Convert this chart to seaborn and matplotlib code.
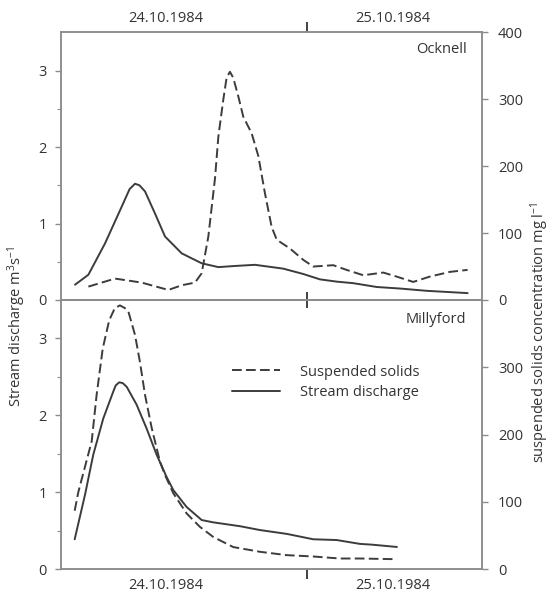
import matplotlib
matplotlib.use("Agg")
import matplotlib.pyplot as plt
from matplotlib.ticker import FixedLocator, NullFormatter
from matplotlib.lines import Line2D
import seaborn as sns

# Time axis: hours counted from 24.10.1984 00:00
day_ticks = [24]
day_label_pos = [16.0, 28.9]
day_labels = ["24.10.1984", "25.10.1984"]

# Ocknell: stream discharge (m3/s)
ock_q_hours = [10.80, 11.56, 12.51, 13.46, 13.91, 14.22, 14.47, 14.79, 15.36, 15.93,
               16.88, 18.02, 18.97, 19.92, 21.06, 22.67, 23.81, 24.76, 25.72, 26.66,
               28.00, 29.32, 30.85, 33.18]
ock_q = [0.20, 0.33, 0.74, 1.22, 1.45, 1.52, 1.50, 1.42, 1.13, 0.83,
         0.61, 0.48, 0.43, 0.445, 0.46, 0.41, 0.34, 0.27, 0.24, 0.22,
         0.17, 0.15, 0.12, 0.09]

# Ocknell: suspended solids (mg/l)
ock_ss_hours = [11.56, 13.08, 14.60, 16.12, 16.88, 17.64, 18.02, 18.40, 18.78, 18.97,
                19.25, 19.44, 19.63, 19.82, 20.11, 20.39, 20.87, 21.25, 21.63, 22.01,
                22.30, 23.05, 23.81, 24.38, 25.52, 26.28, 27.23, 28.37, 29.13, 30.08,
                31.03, 32.17, 33.18]
ock_ss = [20, 32, 26, 15, 22, 26, 40, 95, 182, 244,
          299, 332, 341, 332, 304, 274, 249, 215, 159, 109,
          90, 77, 60, 50, 52, 45, 37, 41, 35, 27,
          35, 42, 45]

# Millyford: stream discharge (m3/s)
mil_q_hours = [10.78, 11.37, 11.84, 12.41, 12.98, 13.12, 13.32, 13.52, 13.75, 14.31,
               14.88, 15.45, 16.02, 16.40, 17.16, 18.02, 18.68, 20.20, 21.34, 22.87,
               24.38, 25.72, 27.04, 27.73, 29.15]
mil_q = [0.39, 0.97, 1.49, 1.96, 2.31, 2.39, 2.43, 2.42, 2.37, 2.14,
         1.83, 1.49, 1.20, 1.03, 0.81, 0.64, 0.61, 0.56, 0.51, 0.46,
         0.39, 0.38, 0.33, 0.32, 0.29]

# Millyford: suspended solids (mg/l)
mil_ss_hours = [10.78, 10.99, 11.75, 12.03, 12.38, 12.75, 13.07, 13.36, 13.64, 13.84,
                14.22, 14.50, 14.79, 15.17, 15.64, 15.93, 16.40, 17.16, 17.92, 18.68,
                19.82, 21.34, 22.87, 24.38, 25.90, 27.04, 29.06]
mil_ss = [87, 115, 190, 259, 328, 370, 388, 392, 388, 383,
          348, 308, 259, 210, 160, 140, 113, 83, 63, 48,
          33, 26, 21, 19, 16, 16, 15]

sns.set_theme(style="ticks")
plt.rcParams["font.family"] = ["Open Sans", "DejaVu Sans"]
plt.rcParams["mathtext.fontset"] = "custom"
plt.rcParams["mathtext.rm"] = "Open Sans"
plt.rcParams["mathtext.default"] = "regular"

LINE = "#3c3c3c"
SPINE = "#8c8c8c"
TEXT = "#333333"
FS = 10.5
DASH = (0, (5, 2.2))

fig = plt.figure(figsize=(5.52, 5.93), dpi=100)
ax_top = fig.add_axes([0.1105, 0.4941, 0.7627, 0.4514])
ax_bot = fig.add_axes([0.1105, 0.0400, 0.7627, 0.4541])


def style_axis(ax):
    for s in ax.spines.values():
        s.set_color(SPINE)
        s.set_linewidth(1.1)
        s.set_visible(True)
    ax.tick_params(colors=SPINE, labelcolor=TEXT, labelsize=FS, width=1.0)


def draw_panel(ax, q_h, q, ss_h, ss, name, name_y, right_ticks):
    axr = ax.twinx()
    sns.lineplot(x=q_h, y=q, ax=ax, color=LINE, lw=1.4,
                 solid_joinstyle="round", solid_capstyle="round")
    sns.lineplot(x=ss_h, y=ss, ax=axr, color=LINE, lw=1.4, linestyle=DASH,
                 dash_joinstyle="round")
    ax.set_xlim(10, 34)
    ax.set_ylim(0, 3.5)
    axr.set_ylim(0, 400)
    ax.set_ylabel("")
    axr.set_ylabel("")
    style_axis(ax)
    style_axis(axr)
    ax.yaxis.set_major_locator(FixedLocator([0, 1, 2, 3]))
    ax.yaxis.set_minor_locator(FixedLocator([0.5, 1.5, 2.5]))
    ax.tick_params(axis="y", which="major", length=4.5, pad=5.5, direction="out")
    ax.tick_params(axis="y", which="minor", length=3, width=0.8, color=SPINE,
                   direction="out")
    axr.yaxis.set_major_locator(FixedLocator(right_ticks))
    axr.tick_params(axis="y", which="major", length=4.5, pad=7, direction="out")
    ax.text(0.963, name_y, name, transform=ax.transAxes, ha="right", va="center",
            fontsize=FS, color=TEXT)
    return axr


ax_top_r = draw_panel(ax_top, ock_q_hours, ock_q, ock_ss_hours, ock_ss,
                      "Ocknell", 0.937, [0, 100, 200, 300, 400])
ax_bot_r = draw_panel(ax_bot, mil_q_hours, mil_q, mil_ss_hours, mil_ss,
                      "Millyford", 0.929, [0, 100, 200, 300])

# Top panel: day labels on top edge, tick crossing into the lower panel
ax_top.xaxis.set_major_locator(FixedLocator(day_ticks))
ax_top.xaxis.set_major_formatter(NullFormatter())
ax_top.tick_params(axis="x", which="major", bottom=True, top=False,
                   direction="in", length=6, width=1.3, color="#333333")
sec_top = ax_top.secondary_xaxis("top")
sec_top.xaxis.set_major_locator(FixedLocator(day_ticks))
sec_top.xaxis.set_major_formatter(NullFormatter())
sec_top.set_xticks(day_label_pos, day_labels, minor=True)
sec_top.tick_params(axis="x", which="major", direction="out", length=7, width=1.3,
                    color="#333333")
sec_top.tick_params(axis="x", which="minor", length=0, pad=4.5, labelsize=FS,
                    labelcolor=TEXT)
sec_top.spines["top"].set_visible(False)

# Bottom panel: day labels underneath, tick crossing into the upper panel
ax_bot.xaxis.set_major_locator(FixedLocator(day_ticks))
ax_bot.xaxis.set_major_formatter(NullFormatter())
ax_bot.set_xticks(day_label_pos, day_labels, minor=True)
ax_bot.tick_params(axis="x", which="major", bottom=True, top=False,
                   direction="out", length=7, width=1.3, color="#333333")
ax_bot.tick_params(axis="x", which="minor", length=0, pad=6.5, labelsize=FS,
                   labelcolor=TEXT)
sec_bot = ax_bot.secondary_xaxis("top")
sec_bot.xaxis.set_major_locator(FixedLocator(day_ticks))
sec_bot.xaxis.set_major_formatter(NullFormatter())
sec_bot.tick_params(axis="x", which="major", direction="in", length=6, width=1.3,
                    color="#333333")
sec_bot.spines["top"].set_visible(False)

# Legend
handles = [Line2D([], [], color=LINE, lw=1.4, linestyle=DASH),
           Line2D([], [], color=LINE, lw=1.4)]
ax_bot.legend(handles, ["Suspended solids", "Stream discharge"], frameon=False,
              loc="center left", bbox_to_anchor=(0.405, 0.695), borderaxespad=0,
              borderpad=0, handlelength=3.3, handletextpad=1.4, labelspacing=0.35,
              fontsize=FS, labelcolor=TEXT)

fig.text(0.031, 0.450, "Stream discharge m$^{3}$s$^{-1}$", rotation=90,
         ha="center", va="center", fontsize=FS, color=TEXT)
fig.text(0.978, 0.440, "suspended solids concentration mg l$^{-1}$", rotation=90,
         ha="center", va="center", fontsize=FS, color=TEXT)

fig.savefig("out.png", dpi=100)
